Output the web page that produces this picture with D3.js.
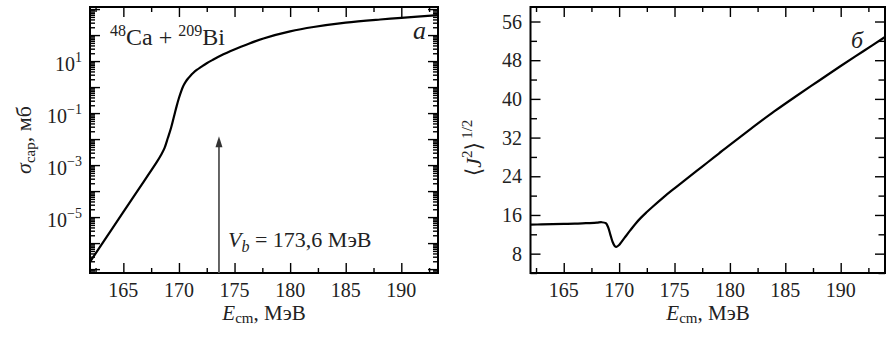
<!DOCTYPE html>
<html>
<head>
<meta charset="utf-8">
<script src="https://cdn.jsdelivr.net/npm/d3@7"></script>
<style>
  body { margin: 0; background: #fff; }
  svg, svg text { font-family: "Liberation Serif", "Tinos", "Times New Roman", "DejaVu Serif", serif; }
</style>
</head>
<body>
<svg id="chart" width="893" height="337"></svg>
<script>
// Collision energy ticks (MeV), shared by both panels
const energyTicks = [165, 170, 175, 180, 185, 190];
const energyMinorTicks = [162.5, 167.5, 172.5, 177.5, 182.5, 187.5, 192.5];

// Panel a: capture cross section, 48Ca + 209Bi (mb)
const captureEnergy = [162, 164, 166, 168, 168.4, 168.7, 169.0, 169.3, 169.6, 169.8, 170.0, 170.2, 170.4, 170.6, 170.8, 171.0, 171.3, 171.6, 172.0, 172.5, 173.1, 174, 174.6, 176, 177.6, 180, 182.1, 185, 188.1, 190, 193.3];
const captureSigma  = [1.9e-7, 3.6e-6, 6.9e-5, 1.3e-3, 2.5e-3, 4.5e-3, 1.1e-2, 2.8e-2, 8.9e-2, 0.19, 0.38, 0.69, 1.12, 1.58, 2.09, 2.63, 3.55, 4.57, 6.0, 8.3, 11.5, 18.2, 24, 41.7, 74, 138, 204, 302, 398, 457, 589];
const decadeLabels = [1, -1, -3, -5];
const barrierEnergy = 173.6;

// Panel б: mean angular momentum <J^2>^(1/2)
const spinEnergy = [162, 163, 164, 165, 166, 167, 168, 168.4, 168.8, 169.0, 169.2, 169.4, 169.6, 169.75, 170.0, 170.2, 170.5, 171, 171.5, 172, 172.5, 173, 174, 175, 176, 177, 178, 179, 180, 182, 184, 186, 188, 190, 192, 194];
const spinRms    = [14.0, 14.05, 14.1, 14.15, 14.2, 14.3, 14.4, 14.5, 14.3, 13.5, 12.0, 10.5, 9.6, 9.4, 9.8, 10.4, 11.3, 12.8, 14.25, 15.5, 16.6, 17.65, 19.65, 21.5, 23.3, 25.1, 26.9, 28.7, 30.5, 34.0, 37.4, 40.6, 43.7, 46.8, 49.8, 52.8];
const spinTicks = [8, 16, 24, 32, 40, 48, 56];
const spinMinorTicks = [4, 12, 20, 28, 36, 44, 52];

const SERIF = '"Liberation Serif", "Tinos", "Times New Roman", "DejaVu Serif", serif';
const svg = d3.select("#chart").attr("font-family", SERIF);
const TOP = 7, BOTTOM = 273;
const MAJOR = 10, MINOR = 5;

function frameTicks(g, x, y, xMajor, xMinor, yMajor, yMinor, yMinorLen) {
  const [x0, x1] = x.range();
  const addAxis = (axis, tx, ty) => {
    const a = g.append("g").attr("transform", `translate(${tx},${ty})`).call(axis);
    a.select(".domain").remove();
    a.selectAll(".tick line").attr("stroke", "#000").attr("stroke-width", 1.4);
    a.selectAll(".tick text").remove();
  };
  addAxis(d3.axisBottom(x).tickValues(xMajor).tickSize(-MAJOR), 0, BOTTOM);
  addAxis(d3.axisBottom(x).tickValues(xMinor).tickSize(-MINOR), 0, BOTTOM);
  addAxis(d3.axisTop(x).tickValues(xMajor).tickSize(-MAJOR), 0, TOP);
  addAxis(d3.axisTop(x).tickValues(xMinor).tickSize(-MINOR), 0, TOP);
  addAxis(d3.axisLeft(y).tickValues(yMajor).tickSize(-MAJOR), x0, 0);
  addAxis(d3.axisLeft(y).tickValues(yMinor).tickSize(-yMinorLen), x0, 0);
  addAxis(d3.axisRight(y).tickValues(yMajor).tickSize(-MAJOR), x1, 0);
  addAxis(d3.axisRight(y).tickValues(yMinor).tickSize(-yMinorLen), x1, 0);
  g.append("rect")
    .attr("x", x0).attr("y", TOP)
    .attr("width", x1 - x0).attr("height", BOTTOM - TOP)
    .attr("fill", "none").attr("stroke", "#000").attr("stroke-width", 2);
  g.selectAll("text.xlab").data(xMajor).join("text")
    .attr("class", "xlab")
    .attr("x", d => x(d)).attr("y", 297)
    .attr("text-anchor", "middle").attr("font-size", 20)
    .attr("fill", "#222")
    .text(d => d);
}

function energyTitle(g, cx) {
  const t = g.append("text").attr("x", cx).attr("y", 320)
    .attr("text-anchor", "middle").attr("font-size", 21).attr("fill", "#222");
  t.append("tspan").attr("font-style", "italic").text("E");
  t.append("tspan").attr("font-size", 15).attr("dy", 3).text("cm");
  t.append("tspan").attr("dy", -3).text(", МэВ");
}

const smooth = d3.curveCatmullRom.alpha(0.5);

// ---------- Panel a ----------
{
  const g = svg.append("g");
  const x = d3.scaleLinear().domain([162, 193.3]).range([90, 438]);
  const y = d3.scaleLog().domain([Math.pow(10, -7.15), Math.pow(10, 3.08)]).range([BOTTOM, TOP]);
  const [lo, hi] = y.domain();
  const decades = d3.range(-8, 4).map(e => Math.pow(10, e)).filter(v => v >= lo && v <= hi);
  const minors = [];
  d3.range(-8, 4).forEach(e => { for (let k = 2; k <= 9; k++) { const v = k * Math.pow(10, e); if (v >= lo && v <= hi) minors.push(v); } });

  frameTicks(g, x, y, energyTicks, energyMinorTicks, decades, minors, MINOR);

  decadeLabels.forEach(e => {
    const t = g.append("text").attr("x", 82).attr("y", y(Math.pow(10, e)) + 10)
      .attr("text-anchor", "end").attr("font-size", 20).attr("fill", "#222");
    t.append("tspan").text("10");
    t.append("tspan").attr("font-size", 14).attr("dy", -9).text(e < 0 ? "\u2212" + (-e) : String(e));
  });

  const line = d3.line().curve(smooth)
    .x((d, i) => x(captureEnergy[i])).y(d => y(d));
  g.append("path").datum(captureSigma).attr("d", line)
    .attr("fill", "none").attr("stroke", "#000").attr("stroke-width", 2.2);

  // Coulomb barrier marker
  const bx = x(barrierEnergy), tipY = y(1.3e-2);
  g.append("line").attr("x1", bx).attr("x2", bx).attr("y1", BOTTOM).attr("y2", tipY + 8)
    .attr("stroke", "#555").attr("stroke-width", 1.8);
  g.append("path").attr("d", `M${bx},${tipY} L${bx - 3.5},${tipY + 11} L${bx + 3.5},${tipY + 11} Z`).attr("fill", "#333");

  const vb = g.append("text").attr("x", 228).attr("y", 247).attr("font-size", 22).attr("fill", "#222");
  vb.append("tspan").attr("font-style", "italic").text("V");
  vb.append("tspan").attr("font-style", "italic").attr("font-size", 16).attr("dy", 5).text("b");
  vb.append("tspan").attr("dy", -5).text(" = " + String(barrierEnergy).replace(".", ",") + " МэВ");

  const rx = g.append("text").attr("x", 110).attr("y", 45).attr("font-size", 24).attr("fill", "#222");
  rx.append("tspan").attr("font-size", 16).attr("dy", -9).text("48");
  rx.append("tspan").attr("dy", 9).text("Ca + ");
  rx.append("tspan").attr("font-size", 16).attr("dy", -9).text("209");
  rx.append("tspan").attr("dy", 9).text("Bi");

  g.append("text").attr("x", 413).attr("y", 39).attr("font-size", 26)
    .attr("font-style", "italic").attr("fill", "#222").text("a");

  const yt = g.append("text").attr("transform", "translate(31,140) rotate(-90)")
    .attr("text-anchor", "middle").attr("font-size", 22).attr("fill", "#222");
  yt.append("tspan").attr("font-style", "italic").text("σ");
  yt.append("tspan").attr("font-size", 15).attr("dy", 4).text("cap");
  yt.append("tspan").attr("dy", -4).text(", мб");

  energyTitle(g, 264);
}

// ---------- Panel б ----------
{
  const g = svg.append("g");
  const x = d3.scaleLinear().domain([162, 194]).range([530.5, 885]);
  const y = d3.scaleLinear().domain([4, 59]).range([BOTTOM, TOP]);

  frameTicks(g, x, y, energyTicks, energyMinorTicks, spinTicks, spinMinorTicks, 6.5);

  g.selectAll("text.ylab").data(spinTicks).join("text")
    .attr("class", "ylab")
    .attr("x", 522).attr("y", d => y(d) + 7)
    .attr("text-anchor", "end").attr("font-size", 20).attr("fill", "#222")
    .text(d => d);

  const line = d3.line().curve(smooth)
    .x((d, i) => x(spinEnergy[i])).y(d => y(d));
  g.append("path").datum(spinRms).attr("d", line)
    .attr("fill", "none").attr("stroke", "#000").attr("stroke-width", 2.2);

  g.append("text").attr("x", 851).attr("y", 48).attr("font-size", 24)
    .attr("font-style", "italic").attr("fill", "#222").text("б");

  const yt = g.append("text").attr("transform", "translate(481,148) rotate(-90)")
    .attr("text-anchor", "middle").attr("font-size", 22).attr("fill", "#222");
  yt.append("tspan").text("\u27E8");
  yt.append("tspan").attr("font-style", "italic").text("J");
  yt.append("tspan").attr("font-size", 15).attr("dy", -9).text("2");
  yt.append("tspan").attr("dy", 9).text("\u27E9");
  yt.append("tspan").attr("font-size", 15).attr("dy", -9).attr("dx", 3).text("1/2");

  energyTitle(g, 708);
}
</script>
</body>
</html>
